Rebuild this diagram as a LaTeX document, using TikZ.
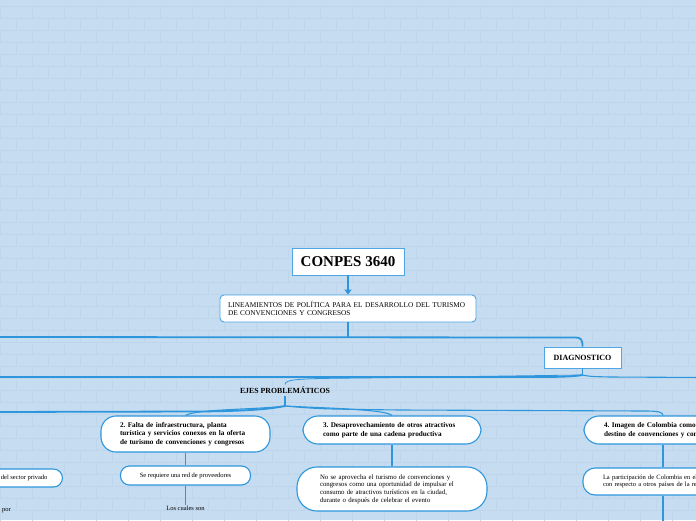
\documentclass[tikz,border=0pt]{standalone}
\usepackage{fontspec}
\setmainfont{Liberation Serif}
\usetikzlibrary{positioning,arrows.meta}

\definecolor{fondo}{RGB}{198,220,240}
\definecolor{ladrillo}{RGB}{190,213,235}
\definecolor{linea}{RGB}{45,150,220}
\definecolor{borde}{RGB}{78,166,226}

\begin{document}
\frenchspacing
\begin{tikzpicture}[x=1pt, y=-1pt,
  caja/.style={rectangle, draw=borde, fill=white, line width=0.9pt, inner sep=3pt},
  pildora/.style={rectangle, draw=linea, fill=white, line width=1.1pt, rounded corners=15pt,
    align=left, font=\fontsize{7.2}{8.6}\selectfont\bfseries},
  nota/.style={rectangle, draw=linea, fill=white, line width=1.1pt, rounded corners=9pt,
    font=\fontsize{6.5}{7.7}\selectfont},
  conn/.style={draw=linea, line width=1.1pt},
  tronco/.style={draw=linea, line width=1.8pt}]

  \useasboundingbox (0,0) rectangle (696,520);
  \clip (0,0) rectangle (696,520);
  \fill[fondo] (0,0) rectangle (696,520);

  % brick wall background
  \foreach \r in {0,...,43}{
    \pgfmathsetmacro{\desf}{mod(\r,2)*16}
    \draw[ladrillo, line width=0.4pt] (0,\r*12+6) -- (696,\r*12+6);
    \foreach \c in {-1,...,22}
      \draw[ladrillo, line width=0.4pt] (\c*32+\desf,\r*12+6) -- ++(0,12);
  }

  % main nodes
  \node[caja, font=\fontsize{15}{18}\selectfont\bfseries, minimum width=112, minimum height=27] (conpes) at (348,261.5) {CONPES 3640};
  \node[caja, rounded corners=4pt, align=left, inner xsep=8pt, text width=240,
    minimum height=27, font=\fontsize{7.3}{7.8}\selectfont] (lineam) at (348,308.5)
    {LINEAMIENTOS DE POLÍTICA PARA EL DESARROLLO DEL TURISMO\\DE CONVENCIONES Y CONGRESOS};
  \node[caja, font=\fontsize{8}{9}\selectfont\bfseries, minimum width=77, minimum height=21] (diag) at (582.5,357.5) {DIAGNOSTICO};
  \node[font=\fontsize{7.8}{9}\selectfont\bfseries, inner sep=2pt] (ejes) at (285,390) {EJES PROBLEMÁTICOS};

  % problem axes
  \node[pildora, inner xsep=19pt, text width=131, minimum height=36] (falta) at (185.5,434)
    {2. Falta de infraestructura, planta\\turística y servicios conexos en la oferta\\de turismo de convenciones y congresos};
  \node[pildora, inner xsep=20pt, text width=138, minimum height=28] (desap) at (392,430)
    {3. Desaprovechamiento de otros atractivos\\como parte de una cadena productiva};
  \node[pildora, inner xsep=20pt, text width=118, minimum height=28] (imagen) at (663,430)
    {\mbox{4. Imagen de Colombia como}\\\mbox{destino de convenciones y congresos}};

  % details
  \node[nota, minimum width=130, minimum height=19] (red) at (185.5,475.5) {Se requiere una red de proveedores};
  \node[font=\fontsize{6.5}{7.7}\selectfont, inner sep=1pt] (cuales) at (185.5,508.5) {Los cuales son};
  \node[nota, rounded corners=20pt, align=left, inner xsep=23pt, text width=144, minimum height=44,
    font=\fontsize{6.8}{7.7}\selectfont] (aprov) at (392,489)
    {No se aprovecha el turismo de convenciones y\\congresos como una oportunidad de impulsar el\\consumo de atractivos turísticos en la ciudad,\\durante o después de celebrar el evento};
  \node[nota, rounded corners=12pt, align=left, inner xsep=20pt, text width=120, minimum height=27] (partic) at (663,481.5)
    {\mbox{La participación de Colombia en el mercado}\\\mbox{con respecto a otros países de la región}};
  \node[nota, anchor=east, inner xsep=15pt, minimum height=18] (privado) at (63,478) {del sector privado};
  \node[font=\fontsize{6.5}{7.7}\selectfont, anchor=west, inner sep=1pt] (por) at (1,511) {por};

  % connectors
  \draw[conn, -{Triangle[length=5pt, width=7pt]}] (conpes.south) -- (lineam.north);
  \coordinate (nudo1) at (348,337);
  \draw[tronco] (lineam.south) -- (nudo1);
  \draw[tronco] (-10,337) -- (574,337.5) .. controls (581,337.5) and (582.5,339) .. (diag.north);

  \coordinate (nudo2) at (582.5,375);
  \draw[conn] (diag.south) -- (nudo2);
  \draw[tronco] (nudo2) .. controls (575,376.5) and (560,377) .. (540,377) -- (-10,377);
  \draw[conn] (nudo2) .. controls (590,376.5) .. (610,377) -- (706,377.5);
  \draw[conn, line width=0.8pt] (nudo2) -- (360,378) .. controls (300,378.5) and (285,379) .. (ejes.north);

  \coordinate (nudo3) at (285,406);
  \draw[conn] (ejes.south) -- (nudo3);
  \draw[tronco] (nudo3) .. controls (270,409) and (250,411) .. (200,411.5) -- (-10,412);
  \draw[conn] (nudo3) .. controls (260,409.5) and (195,409) .. (falta.north);
  \draw[conn] (nudo3) .. controls (320,408) and (385,409) .. (desap.north);
  \draw[conn] (nudo3) .. controls (320,409) .. (400,410) -- (645,411) .. controls (658,411) and (663,412) .. (imagen.north);

  \draw[conn] (falta) -- (red);
  \draw[conn] (red) -- (cuales);
  \draw[conn] (desap) -- (aprov);
  \draw[conn] (imagen) -- (partic);
  \draw[conn] (partic.south) -- ++(0,30);
\end{tikzpicture}
\end{document}
